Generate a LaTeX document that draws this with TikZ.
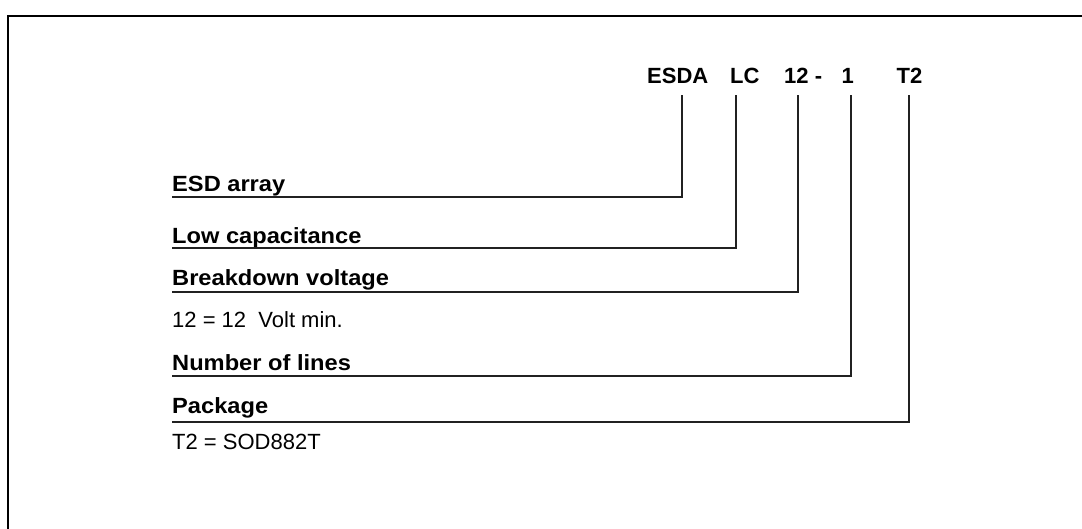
\documentclass[tikz,border=0pt]{standalone}
\usepackage{fontspec}
\setmainfont{Liberation Sans}
\newfontfamily\widebold[FakeStretch=1.075]{Liberation Sans Bold}
\begin{document}
\begin{tikzpicture}[x=1pt,y=-1pt,
  lbl/.style={anchor=base west,inner sep=0pt,font=\fontsize{22}{26}\widebold},
  txt/.style={anchor=base west,inner sep=0pt,font=\fontsize{22}{26}\selectfont},
  code/.style={anchor=base west,inner sep=0pt,font=\fontsize{22}{26}\selectfont\bfseries},
  leader/.style={draw=black!87,line width=2.2pt},
  frame/.style={draw=black,line width=2.6pt}]
\useasboundingbox (0,0) rectangle (1082,528);
% frame
\coordinate (fb) at (8,540);
\coordinate (ftl) at (8,16);
\coordinate (fr) at (1095,16);
\draw[frame] (fb) -- (ftl) -- (fr);
% code
\node[code] (cesda) at (647,83.3) {ESDA};
\node[code] (clc) at (730,83.3) {LC};
\node[code] (c12) at (784,83.3) {12 -};
\node[code] (c1) at (841.5,83.3) {1};
\node[code] (ct2) at (896.5,83.3) {T2};
% labels
\node[lbl] (lesd) at (172,191.7) {ESD array};
\node[lbl] (llc) at (172,243.3) {Low capacitance};
\node[lbl] (lbv) at (172,285) {Breakdown voltage};
\node[txt] (tbv) at (172,327.5) {12 = 12\ \ Volt min.};
\node[lbl] (lnl) at (172,370.7) {Number of lines};
\node[lbl] (lpk) at (172,413.3) {Package};
\node[txt] (tpk) at (172,449) {T2 = SOD882T};
% leader coordinates
\coordinate (t1) at (681.7,95);
\coordinate (t2) at (736,95);
\coordinate (t3) at (798.3,95);
\coordinate (t4) at (850.7,95);
\coordinate (t5) at (909.3,95);
\coordinate (e1) at (171.5,196.7);
\coordinate (e2) at (171.5,248.3);
\coordinate (e3) at (171.5,292.3);
\coordinate (e4) at (171.5,376);
\coordinate (e5) at (171.5,421.7);
\draw[leader] (t1) |- (e1);
\draw[leader] (t2) |- (e2);
\draw[leader] (t3) |- (e3);
\draw[leader] (t4) |- (e4);
\draw[leader] (t5) |- (e5);
\end{tikzpicture}
\end{document}
